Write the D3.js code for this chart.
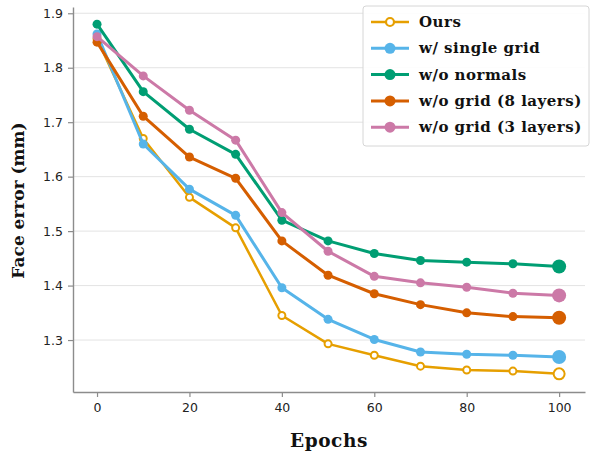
<!DOCTYPE html>
<html>
<head>
<meta charset="utf-8">
<script src="https://cdn.jsdelivr.net/npm/d3@7"></script>
<style>
  body { margin: 0; background: #fff; }
</style>
</head>
<body>
<div id="chart-area"></div>
<script>
// data
var epochs = [0, 10, 20, 30, 40, 50, 60, 70, 80, 90, 100];
var seriesNames = ["Ours", "w/ single grid", "w/o normals", "w/o grid (8 layers)", "w/o grid (3 layers)"];
var seriesColors = ["#E69F00", "#56B4E9", "#009E73", "#D55E00", "#CC79A7"];
var ours      = [1.853, 1.670, 1.562, 1.506, 1.345, 1.293, 1.272, 1.252, 1.245, 1.243, 1.238];
var single    = [1.862, 1.660, 1.577, 1.529, 1.396, 1.338, 1.301, 1.278, 1.274, 1.272, 1.269];
var noNormals = [1.880, 1.756, 1.687, 1.641, 1.520, 1.482, 1.459, 1.446, 1.443, 1.440, 1.435];
var grid8     = [1.847, 1.711, 1.636, 1.597, 1.482, 1.419, 1.385, 1.365, 1.350, 1.343, 1.341];
var grid3     = [1.857, 1.785, 1.722, 1.667, 1.534, 1.463, 1.417, 1.405, 1.397, 1.386, 1.382];
var yTicks = [1.3, 1.4, 1.5, 1.6, 1.7, 1.8, 1.9];
var xTicks = [0, 20, 40, 60, 80, 100];

var allSeries = [ours, single, noNormals, grid8, grid3];

var margins = { left: 73, right: 6, top: 7, bottom: 61 };
var W = 591, H = 453;
var width = W - margins.left - margins.right;
var height = H - margins.top - margins.bottom;

var svg = d3.select("#chart-area").append("svg")
    .attr("width", W)
    .attr("height", H);

var g = svg.append("g")
    .attr("transform", "translate(" + margins.left + "," + margins.top + ")");

var x = d3.scaleLinear().domain([-5.2, 105.6]).range([0, width]);
var y = d3.scaleLinear().domain([1.2046, 1.9115]).range([height, 0]);

// horizontal grid
g.selectAll("line.grid")
    .data(yTicks)
    .enter().append("line")
    .attr("class", "grid")
    .attr("x1", 0).attr("x2", width)
    .attr("y1", function(d){ return y(d); })
    .attr("y2", function(d){ return y(d); })
    .attr("stroke", "#e3e3e3")
    .attr("stroke-width", 1);

// axes
var xAxis = g.append("g")
    .attr("transform", "translate(0," + height + ")")
    .call(d3.axisBottom(x).tickValues(xTicks).tickSize(5).tickPadding(6).tickSizeOuter(0));
var yAxis = g.append("g")
    .call(d3.axisLeft(y).tickValues(yTicks).tickFormat(d3.format(".1f")).tickSize(5).tickPadding(5).tickSizeOuter(0));

[xAxis, yAxis].forEach(function(a){
    a.select(".domain").attr("stroke", "#8c8c8c").attr("stroke-width", 1.4);
    a.selectAll(".tick line").attr("stroke", "#8c8c8c").attr("stroke-width", 1.2);
    a.selectAll(".tick text")
        .attr("font-family", "DejaVu Sans")
        .attr("font-size", "12.5px")
        .attr("fill", "#222");
});

// series
var line = d3.line()
    .x(function(d, i){ return x(epochs[i]); })
    .y(function(d){ return y(d); });

allSeries.forEach(function(vals, s){
    var col = seriesColors[s];
    var hollow = (s === 0);
    g.append("path")
        .datum(vals)
        .attr("d", line)
        .attr("fill", "none")
        .attr("stroke", col)
        .attr("stroke-width", hollow ? 2.5 : 3)
        .attr("stroke-linejoin", "round");
    g.selectAll("circle.s" + s)
        .data(vals)
        .enter().append("circle")
        .attr("class", "s" + s)
        .attr("cx", function(d, i){ return x(epochs[i]); })
        .attr("cy", function(d){ return y(d); })
        .attr("r", function(d, i){ return i === vals.length - 1 ? (hollow ? 5.5 : 7) : (hollow ? 3.5 : 4.5); })
        .attr("fill", hollow ? "#fff" : col)
        .attr("stroke", col)
        .attr("stroke-width", hollow ? 2 : 0);
});

// axis labels
svg.append("text")
    .attr("x", margins.left + width / 2)
    .attr("y", 447)
    .attr("text-anchor", "middle")
    .attr("font-family", "DejaVu Serif")
    .attr("font-weight", "bold")
    .attr("font-size", "18.5px")
    .attr("letter-spacing", "0.6px")
    .attr("fill", "#111")
    .text("Epochs");

svg.append("text")
    .attr("transform", "translate(24," + (margins.top + height / 2 + 1) + ") rotate(-90)")
    .attr("text-anchor", "middle")
    .attr("font-family", "DejaVu Serif")
    .attr("font-weight", "bold")
    .attr("font-size", "17px")
    .attr("fill", "#111")
    .text("Face error (mm)");

// legend
var leg = svg.append("g").attr("transform", "translate(363,6)");
leg.append("rect")
    .attr("width", 226).attr("height", 140)
    .attr("rx", 3)
    .attr("fill", "#fff")
    .attr("fill-opacity", 0.9)
    .attr("stroke", "#d6d6d6")
    .attr("stroke-width", 1);

seriesNames.forEach(function(name, s){
    var col = seriesColors[s];
    var hollow = (s === 0);
    var ly = 16 + s * 26.3;
    leg.append("line")
        .attr("x1", 8).attr("x2", 46)
        .attr("y1", ly).attr("y2", ly)
        .attr("stroke", col)
        .attr("stroke-width", hollow ? 2.5 : 3);
    leg.append("circle")
        .attr("cx", 27).attr("cy", ly)
        .attr("r", hollow ? 4 : 5.5)
        .attr("fill", hollow ? "#fff" : col)
        .attr("stroke", col)
        .attr("stroke-width", hollow ? 2.2 : 0);
    leg.append("text")
        .attr("x", 56).attr("y", ly + 5)
        .attr("font-family", "DejaVu Serif")
        .attr("font-weight", "bold")
        .attr("font-size", "15px")
        .attr("letter-spacing", "0.5px")
        .attr("fill", "#111")
        .text(name);
});
</script>
</body>
</html>
